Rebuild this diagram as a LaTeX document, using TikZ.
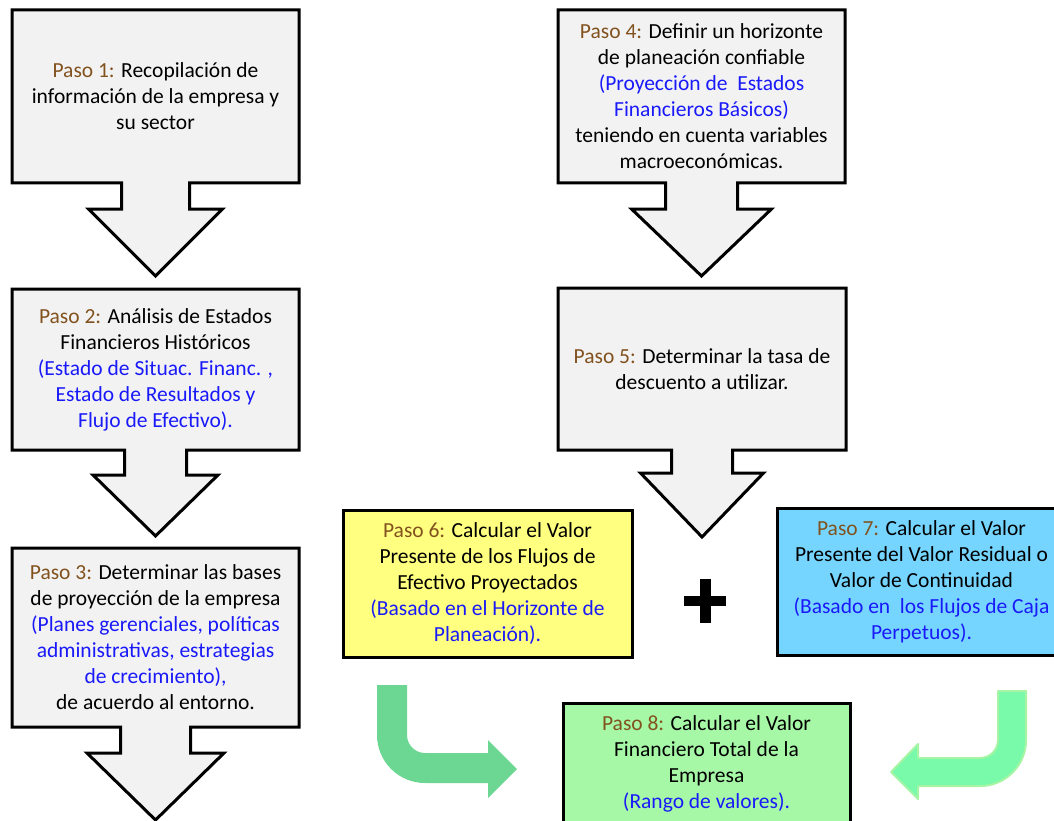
\documentclass[tikz,border=0pt]{standalone}
\usepackage{fontspec}
\setmainfont{Carlito}
\usepackage{tikz}
\usetikzlibrary{calc,backgrounds}

\definecolor{gris}{RGB}{242,242,242}
\definecolor{cafe}{RGB}{130,82,30}
\definecolor{azul}{RGB}{25,25,250}
\definecolor{amarillo}{RGB}{255,255,128}
\definecolor{celeste}{RGB}{117,213,255}
\definecolor{verdeclaro}{RGB}{166,247,166}
\definecolor{verdeflecha}{RGB}{108,214,147}
\definecolor{verdementa}{RGB}{120,250,170}
\definecolor{verdeborde}{RGB}{165,245,165}

\newcommand{\pasolbl}[1]{\textcolor{cafe}{Paso #1:}}
\newcommand{\azul}[1]{\textcolor{azul}{#1}}

% node, stem half width, stem length, head half width, head length
\newcommand{\callout}[5]{%
  \path[callshape] (#1.south west) |- (#1.north east) |- ($(#1.south)+(#2,0)$)
    -- ++(0,#3) -- ++({#4-#2},0) -- ($(#1.south)+(0,{#3+#5})$)
    -- ++({-#4},{-#5}) -- ++({#4-#2},0) -- ++(0,{-#3}) -- cycle;
}

\tikzset{
  pasotxt/.style={rectangle, align=center, inner sep=0pt, outer sep=0pt, minimum width=287pt},
  pasobox/.style={pasotxt, draw=black, line width=3pt},
  callshape/.style={fill=gris, draw=black, line width=3pt, line join=miter},
}

\begin{document}
\begin{tikzpicture}[x=1pt, y=-1pt, font=\fontsize{21.5}{26}\selectfont]
\useasboundingbox (0,0) rectangle (1054,821);
\clip (0,0) rectangle (1054,821);

% left column
\node[pasotxt, minimum height=173pt] (p1) at (155.5,96.5)
  {\pasolbl{1} Recopilación de\\información de la empresa y\\su sector};
\node[pasotxt, minimum height=161pt] (p2) at (155.5,369.5)
  {\pasolbl{2} Análisis de Estados\\Financieros Históricos\\
   \azul{(Estado de Situac. Financ. ,}\\\azul{Estado de Resultados y}\\\azul{Flujo de Efectivo).}};
\node[pasotxt, minimum height=179pt] (p3) at (155.5,637.5)
  {\pasolbl{3} Determinar las bases\\de proyección de la empresa\\
   \azul{(Planes gerenciales, políticas}\\\azul{administrativas, estrategias}\\
   \azul{de crecimiento),}\\de acuerdo al entorno.};

% right column
\node[pasotxt, minimum height=173pt] (p4) at (701.5,96.5)
  {\pasolbl{4} Definir un horizonte\\de planeación confiable\\
   \azul{(Proyección de\ \ Estados}\\\azul{Financieros Básicos)}\\
   teniendo en cuenta variables\\macroeconómicas.};
\node[pasotxt, minimum height=162pt, minimum width=288pt] (p5) at (702,369)
  {\pasolbl{5} Determinar la tasa de\\descuento a utilizar.};

\node[pasobox, fill=amarillo, minimum width=289pt, minimum height=147pt] (p6) at (487.5,583.5)
  {\pasolbl{6} Calcular el Valor\\Presente de los Flujos de\\Efectivo Proyectados\\
   \azul{(Basado en el Horizonte de}\\\azul{Planeación).}};
\node[pasobox, fill=celeste, minimum width=289pt, minimum height=147pt] (p7) at (921.5,581.5)
  {\pasolbl{7} Calcular el Valor\\Presente del Valor Residual o\\Valor de Continuidad\\
   \azul{(Basado en\ \ los Flujos de Caja}\\\azul{Perpetuos).}};
\node[pasobox, fill=verdeclaro, minimum height=122pt] (p8) at (706.5,764)
  {\pasolbl{8} Calcular el Valor\\Financiero Total de la\\Empresa\\\azul{(Rango de valores).}};

\begin{scope}[on background layer]
\callout{p1}{34}{26}{67}{67}
\callout{p2}{31}{25}{62.5}{61}
\callout{p3}{35}{26}{68.5}{67}
\callout{p4}{36}{26}{70}{67}
\callout{p5}{30.5}{23}{61.5}{64}
\end{scope}

% plus sign
\draw[line width=10pt] (684,600.5) -- (726,600.5);
\draw[line width=11pt] (705.5,579) -- (705.5,623);

% bent arrows into paso 8
\fill[verdeflecha] (377,685) -- (407,685) -- (407,735) arc (180:90:18) -- (488,753)
  -- (488,740) -- (517,769) -- (488,798) -- (488,783) -- (425,783)
  arc (90:180:48) -- cycle;
\filldraw[fill=verdementa, draw=verdeborde, line width=2pt, line join=round]
  (998,691) -- (1026,691) -- (1026,740) arc (0:90:46) -- (918,786)
  -- (918,799) -- (891,772) -- (918,744) -- (918,758) -- (980,758)
  arc (90:0:18) -- cycle;
\end{tikzpicture}
\end{document}
